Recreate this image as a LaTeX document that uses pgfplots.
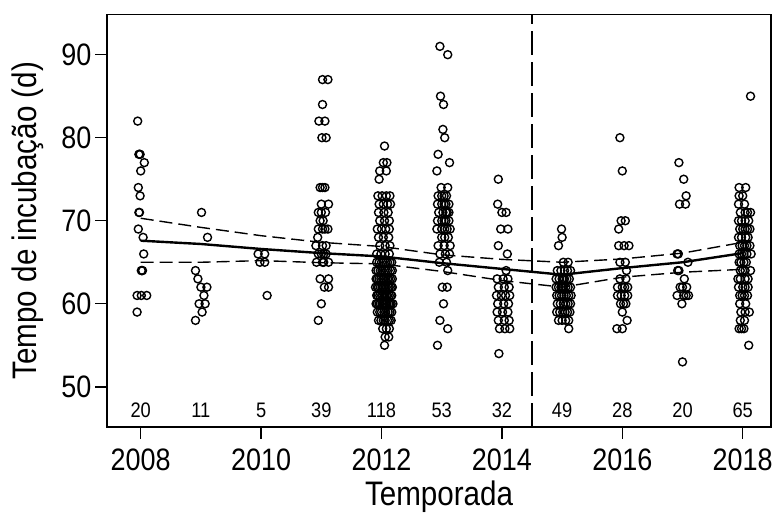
\documentclass[border=0pt]{standalone}
\usepackage{pgfplots}
\pgfplotsset{compat=1.18}
\usepackage{fontspec}
\setmainfont{Liberation Sans}[FakeStretch=0.87]

\pgfplotsset{
  pt/.style={only marks, mark=o, mark size=4pt, mark options={line width=1.4pt, black}},
  band/.style={black, line width=1.4pt, dash pattern=on 13pt off 6pt},
}

\begin{document}
\begin{tikzpicture}
\useasboundingbox (0,0) rectangle (776pt,524pt);
\begin{axis}[
  at={(107pt,97pt)}, anchor=south west,
  width=664pt, height=412.5pt, scale only axis,
  xmin=2007.44, xmax=2018.47, ymin=45.16, ymax=94.84,
  xtick={2008,2010,...,2018}, ytick={50,60,...,90},
  xtick pos=left, ytick pos=left,
  axis line style={line width=1.6pt},
  tick align=outside, major tick length=12pt,
  every tick/.style={black, line width=1.4pt},
  /pgf/number format/assume math mode=true,
  tick label style={font=\fontsize{31}{31}\selectfont},
  x tick label style={/pgf/number format/1000 sep={}, yshift=-6pt},
  xlabel={Temporada}, ylabel={Tempo de incubação (d)},
  label style={font=\fontsize{34}{34}\selectfont},
  xlabel style={at={(axis description cs:0.5,-0.168)}, anchor=center},
  ylabel style={at={(axis description cs:-0.12,0.5)}, anchor=center},
]
% individual nests, jittered horizontally within each season
\addplot[pt] table {
2007.95 82
2007.98 78
2007.97 78
2007.99 78
2008.06 77
2008.00 76
2007.96 74
2007.99 73
2007.97 71
2007.98 71
2007.96 69
2008.04 68
2008.05 66
2008.02 64
2008.03 64
2008.01 64
2007.94 61
2008.01 61
2008.10 61
2007.94 59
};
\addplot[pt] table {
2009.01 71
2009.11 68
2008.91 64
2008.95 63
2009.00 62
2009.10 62
2009.05 61
2008.97 60
2009.07 60
2009.02 59
2008.91 58
};
\addplot[pt] table {
2009.95 66
2010.06 66
2009.98 65
2010.06 65
2010.10 61
};
\addplot[pt] table {
2011.02 87
2011.11 87
2011.02 84
2010.96 82
2011.06 82
2011.01 80
2011.08 80
2010.98 74
2011.02 74
2011.06 74
2011.12 72
2011.00 72
2010.95 71
2011.00 71
2011.07 71
2010.98 70
2011.03 70
2010.95 69
2011.06 69
2011.11 69
2011.02 69
2010.94 68
2010.91 67
2011.02 67
2011.08 67
2010.95 66
2011.04 66
2011.08 66
2011.00 66
2010.92 65
2011.04 65
2011.12 65
2011.02 65
2010.98 63
2011.12 63
2011.05 62
2011.12 62
2011.00 60
2010.95 58
};
\addplot[pt] table {
2012.05 79
2012.03 77
2012.09 77
2011.97 76
2012.08 76
2011.96 75
2011.94 73
2012.01 73
2012.08 73
2012.14 73
2011.96 72
2012.03 72
2012.10 72
2012.15 72
2011.95 71
2012.04 71
2012.11 71
2011.97 70
2012.05 70
2012.13 70
2011.93 69
2012.00 69
2012.07 69
2012.13 69
2011.95 68
2012.03 68
2012.12 68
2011.97 67
2012.06 67
2012.14 67
2011.92 66
2011.99 66
2012.06 66
2012.13 66
2011.92 65
2011.96 65
2012.00 65
2012.03 65
2012.07 65
2012.10 65
2012.14 65
2012.17 65
2011.91 64
2011.94 64
2011.98 64
2012.01 64
2012.05 64
2012.08 64
2012.11 64
2012.15 64
2012.18 64
2011.91 63
2011.93 63
2011.96 63
2011.99 63
2012.02 63
2012.04 63
2012.07 63
2012.10 63
2012.12 63
2012.15 63
2012.18 63
2011.90 62
2011.93 62
2011.95 62
2011.98 62
2012.01 62
2012.03 62
2012.06 62
2012.08 62
2012.11 62
2012.13 62
2012.16 62
2012.18 62
2011.92 61
2011.94 61
2011.97 61
2012.00 61
2012.02 61
2012.05 61
2012.08 61
2012.10 61
2012.13 61
2012.16 61
2012.17 61
2011.91 60
2011.93 60
2011.96 60
2011.98 60
2012.01 60
2012.04 60
2012.06 60
2012.09 60
2012.12 60
2012.14 60
2012.16 60
2012.19 60
2011.93 59
2011.97 59
2012.00 59
2012.04 59
2012.07 59
2012.11 59
2012.14 59
2012.17 59
2011.95 58
2011.99 58
2012.03 58
2012.06 58
2012.10 58
2012.13 58
2012.16 58
2012.02 57
2012.08 57
2012.13 57
2012.06 56
2012.12 56
2012.05 55
};
\addplot[pt] table {
2012.97 91
2013.10 90
2012.98 85
2013.03 84
2013.02 81
2013.05 80
2012.94 78
2013.13 77
2012.92 76
2012.99 74
2013.10 74
2012.94 73
2013.04 73
2013.00 73
2013.08 73
2012.93 72
2013.07 72
2013.12 72
2013.00 72
2013.04 72
2012.95 71
2013.07 71
2013.12 71
2013.02 71
2013.09 71
2012.93 70
2013.07 70
2013.12 70
2013.00 70
2013.04 70
2012.92 69
2013.09 69
2013.14 69
2013.00 69
2013.05 69
2013.00 68
2013.11 68
2013.05 68
2012.94 67
2013.14 67
2013.04 67
2012.97 66
2013.13 66
2013.06 66
2012.96 65
2013.08 65
2013.10 64
2013.01 62
2013.09 62
2013.03 60
2012.97 58
2013.10 57
2012.93 55
};
\addplot[pt] table {
2013.94 75
2013.93 72
2014.00 71
2014.07 71
2013.98 69
2014.10 69
2013.94 67
2014.09 66
2014.07 64
2013.92 63
2014.02 63
2014.10 63
2013.94 62
2014.04 62
2014.12 62
2013.91 61
2013.99 61
2014.06 61
2014.13 61
2013.93 60
2014.03 60
2014.11 60
2013.92 59
2014.01 59
2014.10 59
2013.94 58
2014.04 58
2014.12 58
2013.96 57
2014.05 57
2014.13 57
2013.95 54
};
\addplot[pt] table {
2014.99 69
2015.00 68
2014.94 67
2015.02 65
2015.10 65
2014.92 64
2014.98 64
2015.04 64
2015.09 64
2015.14 64
2014.90 63
2014.95 63
2015.00 63
2015.04 63
2015.08 63
2015.12 63
2015.02 63
2014.90 62
2014.94 62
2014.98 62
2015.02 62
2015.06 62
2015.10 62
2015.14 62
2015.00 62
2014.91 61
2014.95 61
2014.99 61
2015.03 61
2015.07 61
2015.11 61
2015.15 61
2014.92 60
2014.97 60
2015.02 60
2015.06 60
2015.10 60
2015.14 60
2014.91 59
2014.96 59
2015.01 59
2015.05 59
2015.09 59
2015.13 59
2014.94 58
2015.00 58
2015.06 58
2015.11 58
2015.11 57
};
\addplot[pt] table {
2015.96 80
2016.00 76
2016.05 70
2015.98 70
2015.94 69
2015.94 67
2016.03 67
2016.11 67
2015.96 65
2016.05 65
2016.07 64
2015.96 63
2016.06 63
2015.92 62
2016.00 62
2016.09 62
2016.04 62
2015.92 61
2016.04 61
2016.09 61
2015.98 61
2015.97 60
2016.06 60
2016.02 60
2016.00 59
2016.08 58
2015.91 57
2016.00 57
};
\addplot[pt] table {
2016.94 77
2017.02 75
2017.06 73
2016.95 72
2017.05 72
2016.91 66
2016.93 66
2017.09 65
2016.92 64
2016.94 64
2017.03 63
2016.96 62
2017.07 62
2017.00 62
2016.91 61
2017.02 61
2017.10 61
2017.06 61
2016.99 60
2017.00 53
};
\addplot[pt] table {
2018.13 85
2017.94 74
2018.05 74
2017.94 73
2018.00 73
2017.93 72
2018.03 72
2018.04 71
2018.13 71
2017.96 71
2018.08 71
2017.98 70
2018.10 70
2018.04 70
2017.93 70
2017.95 69
2018.04 69
2018.12 69
2018.00 69
2018.08 69
2017.98 68
2018.09 68
2017.93 68
2018.05 68
2017.95 67
2018.03 67
2018.12 67
2017.99 67
2018.07 67
2017.94 66
2018.02 66
2018.14 66
2017.98 66
2018.07 66
2017.94 65
2018.02 65
2018.06 65
2017.97 65
2017.96 64
2018.13 64
2018.04 64
2018.00 64
2017.96 63
2018.04 63
2018.09 63
2017.92 63
2017.93 62
2018.09 62
2018.00 62
2018.04 62
2017.95 61
2018.03 61
2018.08 61
2017.99 61
2017.95 60
2018.05 60
2017.97 59
2018.11 59
2018.04 59
2018.03 58
2017.96 58
2017.94 57
2018.02 57
2017.98 57
2018.10 55
};
% fitted trend and its confidence band
\addplot[black, line width=2.4pt] coordinates {
(2008,67.6) (2009,67.2) (2010,66.6) (2011,66.1) (2012,65.7) (2013,64.9)
(2014,64.2) (2015,63.5) (2016,64.3) (2017,65.0) (2018,66.1)};
\addplot[band] coordinates {
(2008,70.3) (2009,69.2) (2010,68.2) (2011,67.4) (2012,66.9) (2013,65.9)
(2014,65.35) (2015,65.0) (2016,65.4) (2017,66.1) (2018,67.4)};
\addplot[band] coordinates {
(2008,65.0) (2009,65.0) (2010,65.2) (2011,64.95) (2012,64.8) (2013,63.9)
(2014,62.8) (2015,62.0) (2016,63.2) (2017,63.8) (2018,64.15)};
% break between the two periods
\addplot[black, line width=2.3pt, dash pattern=on 24pt off 7pt] coordinates {(2014.5,45.16) (2014.5,94.84)};
% number of nests per season
\addplot[draw=none, mark=none, nodes near coords, point meta=explicit symbolic,
  nodes near coords style={anchor=center, font=\fontsize{21}{21}\selectfont}]
  table[meta=n] {
x y n
2008 47.2 20
2009 47.2 11
2010 47.2 5
2011 47.2 39
2012 47.2 118
2013 47.2 53
2014 47.2 32
2015 47.2 49
2016 47.2 28
2017 47.2 20
2018 47.2 65
};
\end{axis}
\end{tikzpicture}
\end{document}
